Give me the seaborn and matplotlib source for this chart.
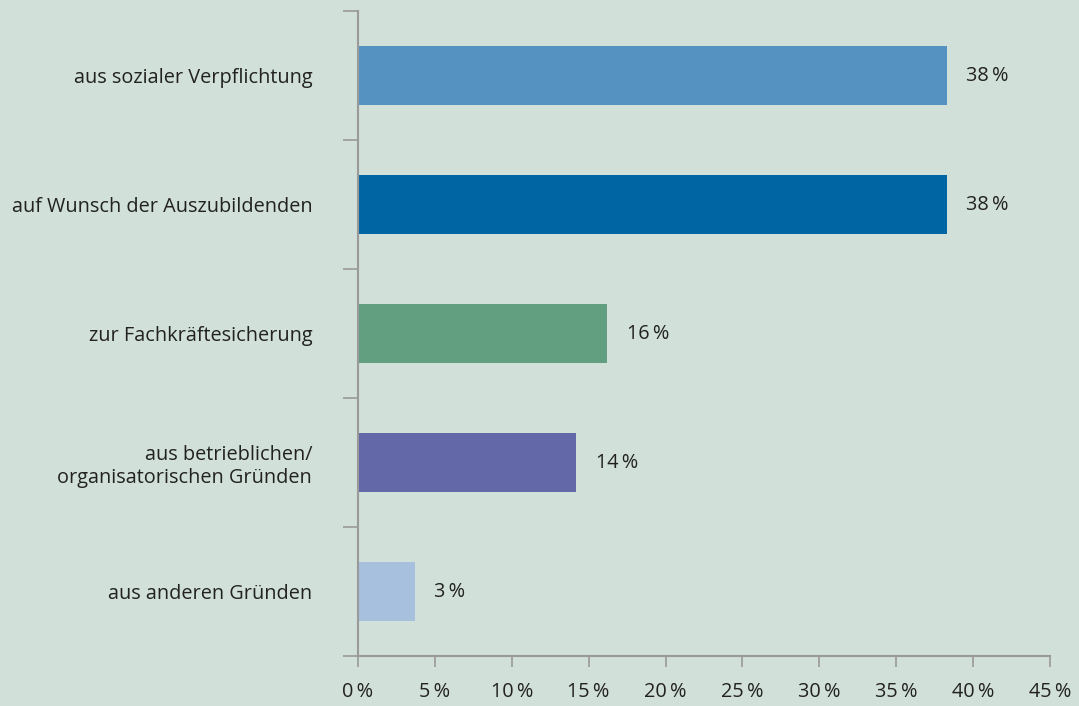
import numpy as np
import pandas as pd
import matplotlib
matplotlib.use('Agg')
import matplotlib.pyplot as plt
import seaborn as sns

# data
categories = ['aus sozialer Verpflichtung',
              'auf Wunsch der Auszubildenden',
              'zur Fachkräftesicherung',
              'aus betrieblichen/\norganisatorischen Gründen',
              'aus anderen Gründen']
values = [38.3, 38.3, 16.2, 14.2, 3.7]
value_labels = ['38\u2009%', '38\u2009%', '16\u2009%', '14\u2009%', '3\u2009%']
bar_colors = ['#5592c2', '#0066a3', '#629e80', '#6368a8', '#a6c0de']
x_ticks = [0, 5, 10, 15, 20, 25, 30, 35, 40, 45]
x_tick_labels = [f'{t}\u2009%' for t in x_ticks]

bg = '#d1e0d8'
axis_grey = '#9a9a9a'
text_col = '#222222'
fs = 14.3

sns.set_style('white')
plt.rcParams['font.family'] = ['Open Sans', 'DejaVu Sans']

df = pd.DataFrame({'Grund': categories, 'Anteil': values})

fig = plt.figure(figsize=(10.79, 7.06), dpi=100, facecolor=bg)
ax = fig.add_axes([0.3318, 0.0708, 0.9731 - 0.3318, 0.9844 - 0.0708])
ax.set_facecolor(bg)

sns.barplot(data=df, x='Anteil', y='Grund', hue='Grund', palette=bar_colors,
            orient='h', width=0.455, legend=False, ax=ax, saturation=1,
            linewidth=0)

# value labels right of the bars
for i, (v, lab) in enumerate(zip(values, value_labels)):
    ax.annotate(lab, xy=(v, i), xytext=(14, 0), textcoords='offset points',
                ha='left', va='center', fontsize=fs, color=text_col)

ax.set_xlim(0, 45)
ax.set_ylim(4.5, -0.5)
ax.set_xlabel('')
ax.set_ylabel('')

ax.set_xticks(x_ticks)
ax.set_xticklabels(x_tick_labels, fontsize=fs, color=text_col)
ax.tick_params(axis='x', bottom=True, direction='out', length=8, width=1.2,
               color=axis_grey, pad=11)

# boundary ticks on y, category labels at centres
ax.set_yticks(np.arange(len(categories) + 1) - 0.5)
ax.set_yticklabels([])
ax.tick_params(axis='y', which='major', left=True, direction='out', length=11,
               width=1.2, color=axis_grey)
ax.set_yticks(np.arange(len(categories)), minor=True)
ax.set_yticklabels(categories, minor=True, fontsize=fs, color=text_col)
ax.tick_params(axis='y', which='minor', left=True, length=0, pad=33)

for s in ['top', 'right']:
    ax.spines[s].set_visible(False)
for s in ['left', 'bottom']:
    ax.spines[s].set_color(axis_grey)
    ax.spines[s].set_linewidth(1.5)

fig.savefig('out.png', dpi=100, facecolor=bg)
